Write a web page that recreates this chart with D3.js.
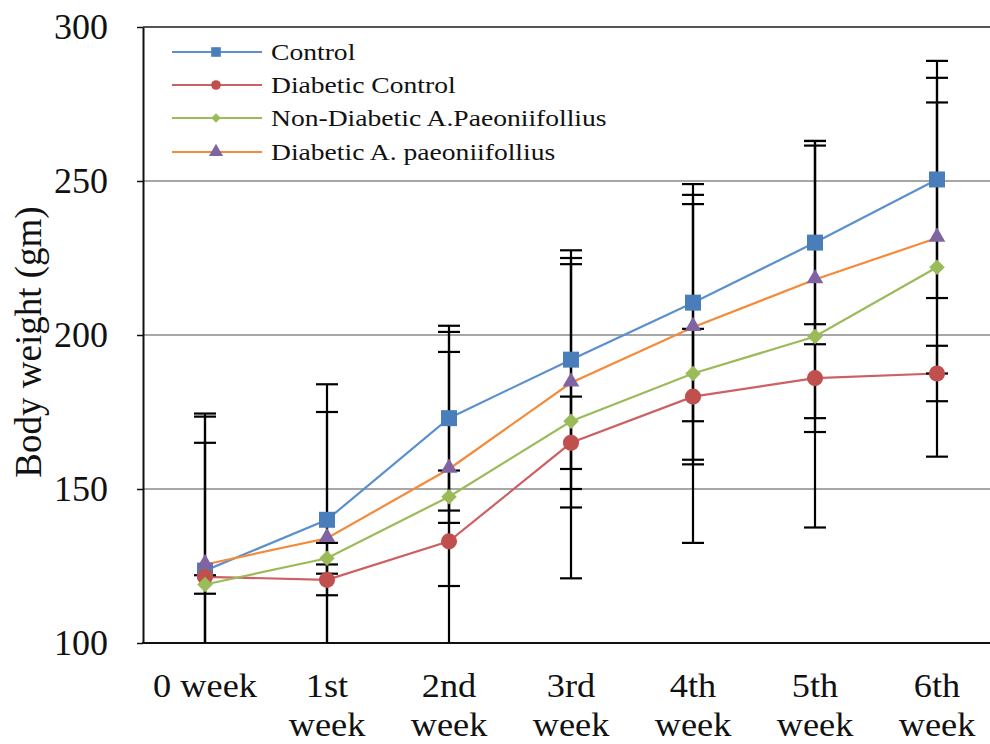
<!DOCTYPE html>
<html>
<head>
<meta charset="utf-8">
<script src="https://cdn.jsdelivr.net/npm/d3@7"></script>
<style>
  html, body { margin: 0; padding: 0; background: #fff; }
  svg { display: block; }
</style>
</head>
<body>
<div id="chart"></div>
<script>
// ---- Data ----
const categories = ["0 week", "1st week", "2nd week", "3rd week", "4th week", "5th week", "6th week"];
const categoryLines = [["0 week"], ["1st", "week"], ["2nd", "week"], ["3rd", "week"], ["4th", "week"], ["5th", "week"], ["6th", "week"]];
const seriesNames = ["Control", "Diabetic Control", "Non-Diabetic A.Paeoniifollius", "Diabetic A. paeoniifollius"];
const controlValues = [123.5, 140, 173, 192, 210.5, 230, 250.5];
const diabeticControlValues = [121.5, 120.5, 133, 165, 180, 186, 187.5];
const nonDiabeticAPValues = [119, 127.5, 147.5, 172, 187.5, 199.5, 222];
const diabeticAPValues = [125.5, 134, 156.5, 184.5, 202.5, 218, 231.5];
const controlErr = [51, 44, 30, 35.5, 38.5, 33, 38.5];
const diabeticControlErr = [43.5, 5, 68, 15, 22, 17.5, 9];
const nonDiabeticAPErr = [3, 5, 8.5, 51, 55, 62, 61.5];
const diabeticAPErr = [48, 41, 38, 40.5, 43, 45, 44];
const yTicks = [100, 150, 200, 250, 300];
const yTitle = "Body weight (gm)";

// ---- Styles ----
const lineColors = ["#5a8fd0", "#cc6062", "#9bbb59", "#f58a3a"];
const markerColors = ["#4a7ebb", "#c0504d", "#9bbb59", "#8064a2"];
const markerShapes = ["square", "circle", "diamond", "triangle"];
const serif = "'Liberation Serif', 'Times New Roman', serif";

const series = seriesNames.map((name, i) => ({
  name,
  values: [controlValues, diabeticControlValues, nonDiabeticAPValues, diabeticAPValues][i],
  errs: [controlErr, diabeticControlErr, nonDiabeticAPErr, diabeticAPErr][i],
  line: lineColors[i], marker: markerColors[i], shape: markerShapes[i]
}));

const W = 990, H = 744;
const plotLeft = 143, plotTop = 27, plotBottom = 643;
const svg = d3.select("#chart").append("svg").attr("width", W).attr("height", H);

const x = d3.scaleBand().domain(categories).range([144, 998]).padding(0);
const cx = c => x(c) + x.bandwidth() / 2;
const y = d3.scaleLinear().domain([100, 300]).range([plotBottom, plotTop]);

// gridlines
svg.append("g").selectAll("line").data(yTicks.filter(t => t > 100)).join("line")
  .attr("x1", plotLeft).attr("x2", W)
  .attr("y1", d => y(d)).attr("y2", d => y(d))
  .attr("stroke", d => d === 300 ? "#555" : "#8a8a8a")
  .attr("stroke-width", d => d === 300 ? 2 : 1.6);

// y axis
const yAxis = svg.append("g").attr("transform", `translate(${plotLeft},0)`)
  .call(d3.axisLeft(y).tickValues(yTicks).tickSize(6).tickSizeOuter(0).tickFormat(d3.format("d")));
yAxis.select(".domain").attr("stroke", "#111").attr("stroke-width", 2);
yAxis.selectAll(".tick line").attr("stroke", "#111").attr("stroke-width", 1.5);
yAxis.selectAll(".tick text").attr("x", -35).attr("dy", "0.33em")
  .style("font-family", serif).style("font-size", "36px").attr("fill", "#111");

// x axis line
svg.append("line").attr("x1", plotLeft - 1).attr("x2", W).attr("y1", plotBottom).attr("y2", plotBottom)
  .attr("stroke", "#111").attr("stroke-width", 2);

// x labels
const xl = svg.append("g").selectAll("g").data(categories).join("g")
  .attr("transform", d => `translate(${cx(d)},697) scale(1.1,1)`);
xl.each(function(d, i) {
  const g = d3.select(this);
  categoryLines[i].forEach((t, j) => {
    g.append("text").attr("x", 0).attr("y", j * 39).attr("text-anchor", "middle")
      .style("font-family", serif).style("font-size", "33px").attr("fill", "#111").text(t);
  });
});

// y title
svg.append("text").attr("transform", "translate(41,342) rotate(-90)")
  .attr("text-anchor", "middle").style("font-family", serif).style("font-size", "37px")
  .attr("fill", "#111").text(yTitle);

// clip
svg.append("clipPath").attr("id", "plotclip").append("rect")
  .attr("x", plotLeft).attr("y", plotTop - 2).attr("width", W - plotLeft).attr("height", plotBottom - plotTop + 2);

// lines
const lineGen = d3.line().x((d, i) => cx(categories[i])).y(d => y(d));
svg.append("g").selectAll("path").data(series).join("path")
  .attr("d", s => lineGen(s.values)).attr("fill", "none")
  .attr("stroke", s => s.line).attr("stroke-width", 2.2);

// error bars
const eb = svg.append("g").attr("clip-path", "url(#plotclip)");
series.forEach(s => {
  s.values.forEach((v, i) => {
    const px = cx(categories[i]);
    const hi = y(v + s.errs[i]), lo = y(v - s.errs[i]);
    eb.append("line").attr("x1", px).attr("x2", px).attr("y1", hi).attr("y2", lo)
      .attr("stroke", "#000").attr("stroke-width", 2.2);
    [hi, lo].forEach(yy => eb.append("line").attr("x1", px - 11).attr("x2", px + 11)
      .attr("y1", yy).attr("y2", yy).attr("stroke", "#000").attr("stroke-width", 2.2));
  });
});

// markers
function markerPath(shape, scale) {
  if (shape === "square") return d3.symbol(d3.symbolSquare, 256 * scale * scale)();
  if (shape === "circle") return d3.symbol(d3.symbolCircle, 205 * scale * scale)();
  if (shape === "diamond") return d3.symbol(d3.symbolSquare, 121 * scale * scale)();
  return d3.symbol(d3.symbolTriangle, 120 * scale * scale)();
}
const mk = svg.append("g");
series.forEach(s => {
  mk.selectAll(null).data(s.values).join("path")
    .attr("d", markerPath(s.shape, 1))
    .attr("transform", (d, i) => `translate(${cx(categories[i])},${y(d)})` + (s.shape === "diamond" ? " rotate(45)" : "") + (s.shape === "triangle" ? " translate(0,-1)" : ""))
    .attr("fill", s.marker);
});

// legend
const rowsY = [52, 85, 118, 152];
const lg = svg.append("g");
series.forEach((s, i) => {
  const ry = rowsY[i];
  lg.append("line").attr("x1", 172).attr("x2", 262).attr("y1", ry).attr("y2", ry)
    .attr("stroke", s.line).attr("stroke-width", 2.2);
  lg.append("path").attr("d", markerPath(s.shape, s.shape === "triangle" ? 0.85 : 0.6))
    .attr("transform", `translate(216,${ry})` + (s.shape === "diamond" ? " rotate(45)" : ""))
    .attr("fill", s.marker);
  lg.append("text").attr("transform", `translate(271,${ry + 7.5}) scale(1.2,1)`)
    .style("font-family", serif).style("font-size", "23px").attr("fill", "#111").text(s.name);
});
</script>
</body>
</html>
